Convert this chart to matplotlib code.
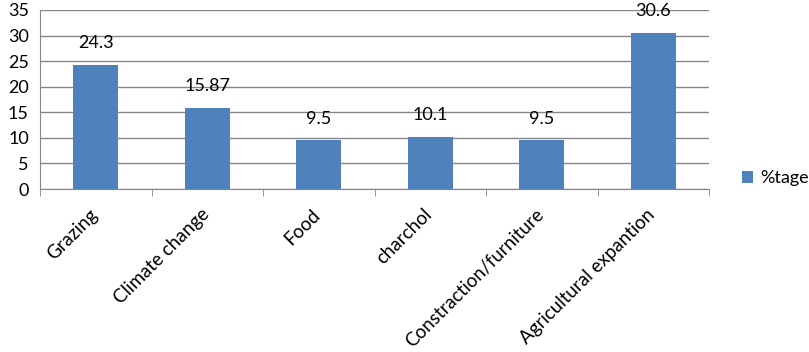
import matplotlib.pyplot as plt
import matplotlib.transforms as mtransforms
import numpy as np

categories = ['Grazing', 'Climate change', 'Food', 'charchol',
              'Constraction/furniture', 'Agricultural expantion']
values = [24.3, 15.87, 9.5, 10.1, 9.5, 30.6]
value_labels = ['24.3', '15.87', '9.5', '10.1', '9.5', '30.6']
series_name = '%tage'

plt.rcParams['font.family'] = ['Lato', 'DejaVu Sans']

fig = plt.figure(figsize=(8.09, 3.52), dpi=100)
ax = fig.add_axes([40 / 809, 1 - 189 / 352, (709 - 40) / 809, (189 - 10) / 352])

x = np.arange(len(categories))
bars = ax.bar(x, values, width=0.4, color='#4F81BD', zorder=3, label=series_name)

for xi, v, lab in zip(x, values, value_labels):
    ax.annotate(lab, (xi, v), xytext=(0, 10), textcoords='offset points',
                ha='center', va='bottom', fontsize=13, color='black')

ax.set_xlim(-0.5, len(categories) - 0.5)
ax.set_ylim(0, 35)
ax.set_yticks(range(0, 36, 5))
ax.yaxis.grid(True, color='#868686', linewidth=1.0, zorder=0)
ax.tick_params(axis='y', length=0, labelsize=13, pad=8)

ax.set_xticks(x)
ax.set_xticklabels(categories, rotation=45, ha='right', rotation_mode='anchor', fontsize=13.5)
ax.tick_params(axis='x', length=0, pad=12)
# nudge labels a little left, like the original
shift = mtransforms.ScaledTranslation(-5 / 72, 0, fig.dpi_scale_trans)
for t in ax.get_xticklabels():
    t.set_transform(t.get_transform() + shift)
ax.set_xticks(np.arange(-0.5, len(categories)), minor=True)
ax.tick_params(axis='x', which='minor', length=5, color='#868686', direction='out')

for s in ['top', 'right']:
    ax.spines[s].set_visible(False)
ax.spines['left'].set_color('#868686')
ax.spines['bottom'].set_color('#868686')

ax.legend(loc='center left', bbox_to_anchor=(1.025, 0.06), frameon=False,
          fontsize=13, handlelength=0.6, handleheight=0.6, handletextpad=0.4)

fig.savefig('out.png', dpi=100)
